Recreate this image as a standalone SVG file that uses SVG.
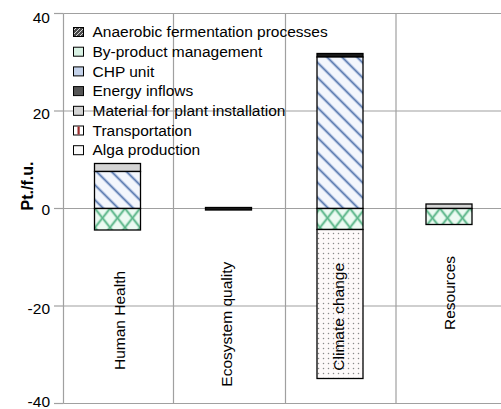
<svg xmlns="http://www.w3.org/2000/svg" width="501" height="409" viewBox="0 0 501 409">
  <style>
    text { font-family: "Liberation Sans", Arial, sans-serif; font-size: 15.5px; fill: #000; }
    .grid { stroke: #a0a0a0; stroke-width: 1.2; fill: none; }
    .tick { font-size: 15.5px; text-anchor: end; }
    .title { font-weight: bold; font-size: 16px; text-anchor: middle; }
    .seg { stroke: #000; stroke-width: 1.3; }
    .sw { stroke: #000; stroke-width: 1; }
  </style>
  <defs>
    <!-- blue diagonal hatch: CHP unit -->
    <pattern id="p-chp" x="0" y="0" width="15" height="15" patternUnits="userSpaceOnUse">
      <rect width="15" height="15" fill="#f3f6fc"/>
      <path d="M-4,-4 L19,19 M-4,11 L4,19 M11,-4 L19,4" stroke="#c4d1ea" stroke-width="3.4" fill="none"/>
      <path d="M-4,-4 L19,19 M-4,11 L4,19 M11,-4 L19,4" stroke="#5d7cb0" stroke-width="1.4" fill="none"/>
    </pattern>
    <!-- green cross hatch: by-product management -->
    <pattern id="p-byp" x="5" y="208.5" width="15" height="19" patternUnits="userSpaceOnUse">
      <rect width="15" height="19" fill="#ecfaf2"/>
      <path d="M0,0 L15,19 M15,0 L0,19" stroke="#b0e0c6" stroke-width="3" fill="none"/>
      <path d="M0,0 L15,19 M15,0 L0,19" stroke="#55b285" stroke-width="1.3" fill="none"/>
    </pattern>
    <!-- dotted fill: alga production -->
    <pattern id="p-alga" x="1" y="1" width="5" height="5" patternUnits="userSpaceOnUse">
      <rect width="5" height="5" fill="#fdf9f9"/>
      <circle cx="2.5" cy="2.5" r="0.75" fill="#8a8a8a"/>
    </pattern>
    <!-- dark diagonal: anaerobic fermentation -->
    <pattern id="p-anaer" x="0" y="0" width="4" height="4" patternUnits="userSpaceOnUse">
      <rect width="4" height="4" fill="#4a4a4a"/>
      <path d="M-1,5 L5,-1" stroke="#d8d8d8" stroke-width="1"/>
    </pattern>
  </defs>

  <!-- plot area grid -->
  <g id="grid">
    <line class="grid" x1="63.5" y1="13.5" x2="501" y2="13.5"/>
    <line class="grid" x1="63.5" y1="111" x2="501" y2="111"/>
    <line class="grid" x1="63.5" y1="208.5" x2="501" y2="208.5"/>
    <line class="grid" x1="63.5" y1="306" x2="501" y2="306"/>
    <line class="grid" x1="63.5" y1="403.5" x2="501" y2="403.5"/>
    <line class="grid" x1="173.5" y1="13.5" x2="173.5" y2="403.5"/>
    <line class="grid" x1="285.5" y1="13.5" x2="285.5" y2="403.5"/>
    <line class="grid" x1="396" y1="13.5" x2="396" y2="403.5"/>
  </g>

  <!-- value axis -->
  <g id="axis">
    <line class="grid" x1="63.5" y1="13.5" x2="63.5" y2="403.5"/>
    <line class="grid" x1="54" y1="13.5" x2="63.5" y2="13.5"/>
    <line class="grid" x1="54" y1="111" x2="63.5" y2="111"/>
    <line class="grid" x1="54" y1="208.5" x2="63.5" y2="208.5"/>
    <line class="grid" x1="54" y1="306" x2="63.5" y2="306"/>
    <line class="grid" x1="54" y1="403.5" x2="63.5" y2="403.5"/>
    <text class="tick" x="50" y="22.5">40</text>
    <text class="tick" x="50" y="118.5">20</text>
    <text class="tick" x="50" y="214.5">0</text>
    <text class="tick" x="50" y="313.5">-20</text>
    <text class="tick" x="50" y="406.5">-40</text>
    <text class="title" transform="translate(33,186) rotate(-90)">Pt./f.u.</text>
  </g>

  <!-- stacked bars -->
  <g id="bar-human-health">
    <rect class="seg" x="94.5" y="163.5" width="46" height="8" fill="#d4d4d4"/>
    <rect class="seg" x="94.5" y="171.5" width="46" height="37" fill="url(#p-chp)"/>
    <rect class="seg" x="94.5" y="208.5" width="46" height="21.5" fill="url(#p-byp)"/>
  </g>
  <g id="bar-ecosystem-quality">
    <rect class="seg" x="205.5" y="207.5" width="46" height="2.5" fill="#1a1a1a"/>
  </g>
  <g id="bar-climate-change">
    <rect class="seg" x="317" y="53.5" width="46" height="3.5" fill="#1a1a1a"/>
    <rect class="seg" x="317" y="57" width="46" height="151.5" fill="url(#p-chp)"/>
    <rect class="seg" x="317" y="208.5" width="46" height="21" fill="url(#p-byp)"/>
    <rect class="seg" x="317" y="229.5" width="46" height="149" fill="url(#p-alga)"/>
  </g>
  <g id="bar-resources">
    <rect class="seg" x="426" y="204" width="46" height="4.5" fill="#d4d4d4"/>
    <rect class="seg" x="426" y="208.5" width="46" height="16" fill="url(#p-byp)"/>
  </g>

  <!-- category labels -->
  <g id="categories">
    <text transform="translate(124.5,370) rotate(-90)">Human Health</text>
    <text transform="translate(232,386.7) rotate(-90)">Ecosystem quality</text>
    <text transform="translate(343.5,370.7) rotate(-90)">Climate change</text>
    <text transform="translate(454.5,330) rotate(-90)">Resources</text>
  </g>

  <!-- legend -->
  <g id="legend">
    <rect class="sw" x="73.5" y="27.5" width="10" height="9" fill="url(#p-anaer)"/>
    <text x="92.5" y="37.2">Anaerobic fermentation processes</text>
    <rect class="sw" x="73.5" y="47.2" width="10" height="9" fill="#d9f2e4"/>
    <text x="92.5" y="56.9">By-product management</text>
    <rect class="sw" x="73.5" y="66.9" width="10" height="9" fill="#c4d2ea"/>
    <text x="92.5" y="76.6">CHP unit</text>
    <rect class="sw" x="73.5" y="86.6" width="10" height="9" fill="#555555"/>
    <text x="92.5" y="96.3">Energy inflows</text>
    <rect class="sw" x="73.5" y="106.3" width="10" height="9" fill="#d4d4d4"/>
    <text x="92.5" y="116">Material for plant installation</text>
    <rect class="sw" x="73.5" y="126" width="10" height="9" fill="#ffffff"/>
    <rect x="77.5" y="126.5" width="2.2" height="8" fill="#9b2b2b"/>
    <text x="92.5" y="135.7">Transportation</text>
    <rect class="sw" x="73.5" y="145.7" width="10" height="9" fill="#fafafa"/>
    <text x="92.5" y="155.4">Alga production</text>
  </g>
</svg>
